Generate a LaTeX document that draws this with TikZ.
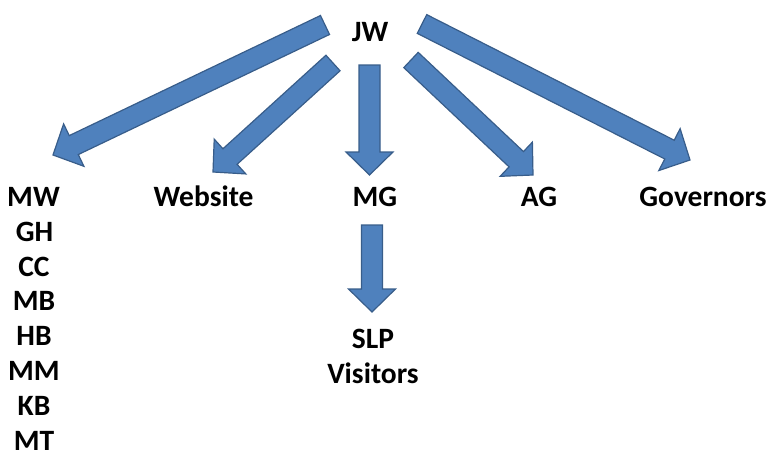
\documentclass[tikz,border=0pt]{standalone}
\usepackage{fontspec}
\setmainfont{Carlito}
\usetikzlibrary{calc}
\definecolor{arrfill}{HTML}{4F81BD}
\definecolor{arrline}{HTML}{385D8A}
\tikzset{
  lbl/.style={anchor=base, inner sep=0pt, font=\bfseries\fontsize{29.5}{35}\selectfont},
  blockarrow/.style={fill=arrfill, draw=arrline, line width=1.2pt, line join=miter},
}
% block arrow from tail coordinate #1 to tip coordinate #2
\newcommand\blockarrow[2]{%
  \coordinate (ba-h) at ($(#2)!23pt!(#1)$);
  \path[blockarrow] ($(#1)!10.5pt!90:(#2)$) -- ($(ba-h)!10.5pt!90:(#2)$)
    -- ($(ba-h)!23.5pt!90:(#2)$) -- (#2) -- ($(ba-h)!23.5pt!-90:(#2)$)
    -- ($(ba-h)!10.5pt!-90:(#2)$) -- ($(#1)!10.5pt!-90:(#2)$) -- cycle;
}
\begin{document}
\begin{tikzpicture}[x=1pt,y=-1pt]
\useasboundingbox (0,0) rectangle (769,455);
% labels
\node[lbl] (jw) at (370,41.7) {JW};
\node[lbl] (mw) at (33.5,206.5) {MW};
\node[lbl] (website) at (203.5,206.5) {Website};
\node[lbl] (mg) at (375,206.5) {MG};
\node[lbl] (ag) at (539,206.5) {AG};
\node[lbl] (governors) at (703,206.5) {Governors};
\node[lbl] (gh) at (34.5,241.3) {GH};
\node[lbl] (cc) at (34,276.1) {CC};
\node[lbl] (mb) at (34,310.9) {MB};
\node[lbl] (hb) at (34,345.7) {HB};
\node[lbl] (mm) at (34,380.5) {MM};
\node[lbl] (kb) at (34,415.3) {KB};
\node[lbl] (mt) at (34,450) {MT};
\node[lbl] (slp) at (373,348) {SLP};
\node[lbl] (visitors) at (373,383.5) {Visitors};
% arrow ends
\coordinate (t1) at (325,25);  \coordinate (h1) at (53,155);
\coordinate (t2) at (333,63);  \coordinate (h2) at (213,172);
\coordinate (t3) at (369.5,65);  \coordinate (h3) at (369.5,175);
\coordinate (t4) at (411,60);  \coordinate (h4) at (533,175);
\coordinate (t5) at (422,24);  \coordinate (h5) at (690,160);
\coordinate (t6) at (372,225); \coordinate (h6) at (372,312);
\blockarrow{t1}{h1}
\blockarrow{t2}{h2}
\blockarrow{t3}{h3}
\blockarrow{t4}{h4}
\blockarrow{t5}{h5}
\blockarrow{t6}{h6}
\end{tikzpicture}
\end{document}
